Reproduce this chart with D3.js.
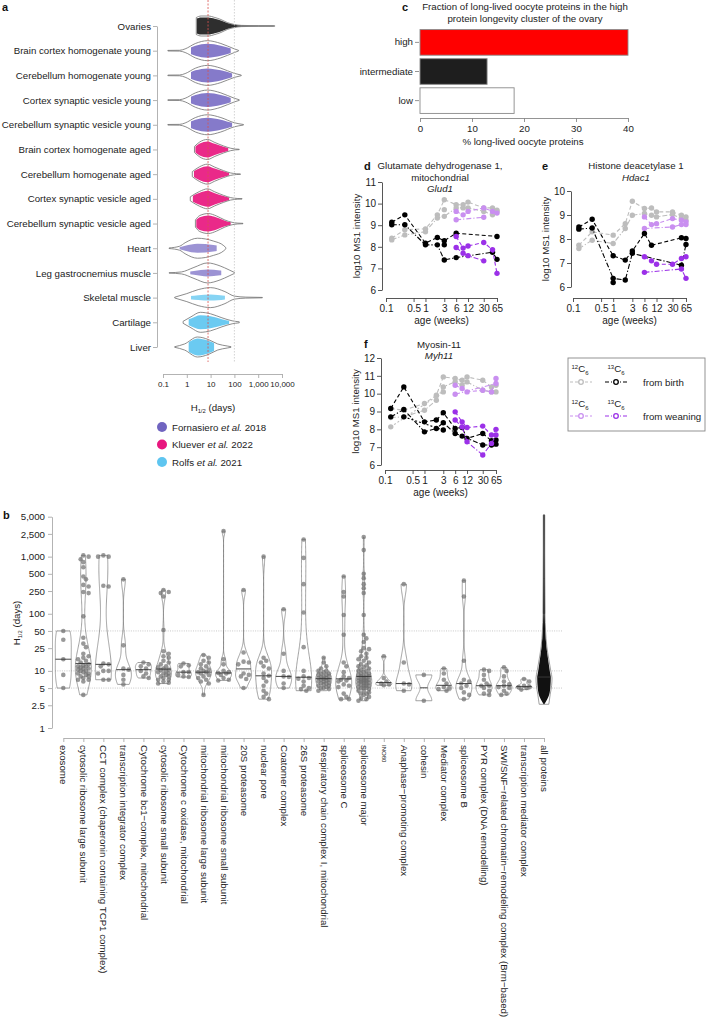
<!DOCTYPE html>
<html><head><meta charset="utf-8">
<script src="https://cdn.jsdelivr.net/npm/d3@7"></script>
<style>body{margin:0;background:#fff}svg{display:block}</style>
</head><body><script>
// ================= DATA =================
// Panel a
const tissues = ["Ovaries","Brain cortex homogenate young","Cerebellum homogenate young","Cortex synaptic vesicle young","Cerebellum synaptic vesicle young","Brain cortex homogenate aged","Cerebellum homogenate aged","Cortex synaptic vesicle aged","Cerebellum synaptic vesicle aged","Heart","Leg gastrocnemius muscle","Skeletal muscle","Cartilage","Liver"];
const tissueStudy = ["Ovary","Fornasiero","Fornasiero","Fornasiero","Fornasiero","Kluever","Kluever","Kluever","Kluever","Fornasiero","Fornasiero","Rolfs","Rolfs","Rolfs"];
// violin outline profiles: [half-life (days), relative width]
const tissueOutline = [
 [[2.5,0.85],[4,1],[8,1],[15,0.85],[27,0.65],[50,0.35],[100,0.15],[200,0.06],[1000,0.03],[5000,0.02]],
 [[0.16,0.03],[0.5,0.04],[0.85,0.18],[2.3,0.72],[7.4,1],[27,0.72],[100,0.18],[150,0.03]],
 [[0.16,0.03],[0.5,0.04],[0.85,0.18],[2.3,0.72],[7.4,1],[27,0.72],[100,0.2],[194,0.03]],
 [[0.16,0.03],[0.5,0.04],[0.85,0.18],[2.3,0.72],[7.4,1],[27,0.72],[100,0.18],[160,0.03]],
 [[0.16,0.03],[0.5,0.04],[0.85,0.18],[2.3,0.72],[7.4,1],[27,0.72],[100,0.2],[240,0.03]],
 [[2.1,0.3],[3.5,0.75],[7.4,1],[15,0.7],[35,0.35],[70,0.12],[110,0.04],[160,0.02]],
 [[1.7,0.25],[3.5,0.75],[7.4,1],[15,0.7],[35,0.35],[70,0.12],[120,0.04],[180,0.02]],
 [[1.4,0.2],[3.5,0.75],[7.4,1],[15,0.7],[35,0.35],[70,0.12],[130,0.04],[210,0.02]],
 [[2.3,0.35],[3.5,0.8],[8,1],[18,0.75],[40,0.35],[80,0.12],[140,0.04],[230,0.02]],
 [[0.18,0.03],[0.5,0.2],[0.85,0.55],[2.8,1],[13,0.72],[36,0.25],[44,0.05]],
 [[0.18,0.02],[0.6,0.1],[2,0.55],[7.4,1],[25,0.7],[60,0.3],[100,0.05]],
 [[0.31,0.04],[1,0.4],[3,0.8],[10,1],[40,0.6],[100,0.15],[300,0.05],[1500,0.02]],
 [[0.7,0.1],[1.5,0.55],[3.7,1],[10,0.85],[30,0.45],[80,0.15],[160,0.05]],
 [[0.31,0.03],[0.8,0.3],[2.8,1],[8,0.75],[20,0.3],[50,0.1],[72,0.03]]
];
// spread of the individual protein points inside each violin: relative width and half-life range
const tissuePointSpread = [0.85,0.7,0.7,0.7,0.7,0.8,0.8,0.8,0.8,0.45,0.35,0.3,0.7,0.85];
const tissuePointRange = [[2.6,4500],[1.5,70],[1.5,80],[1.5,70],[1.5,80],[2.3,55],[2.0,60],[1.8,60],[2.5,70],[0.5,18],[1.4,28],[1.5,40],[1.2,60],[1.2,14]];
const studies = ["Fornasiero et al. 2018","Kluever et al. 2022","Rolfs et al. 2021"];
const medianHalfLife = 7.8;
const referenceHalfLife = 100;
const aTicks = [0.1,1,10,100,1000,10000];

// Panel c
const longevityClusters = ["high","intermediate","low"];
const pctLongLived = [40,12.9,18.1];
const cTicks = [0,10,20,30,40];

// Panels d-f
const ageWeeks = [0.14,0.3,1,2,3,6,9,12,30,50,65];
const ageTicks = [0.1,0.5,1,3,6,12,30,65];
const N = null;
const glud1Birth12C = [
 [8.4,8.79,8.83,9.48,10.18,9.95,9.95,10.07,9.8,9.8,9.64],
 [8.32,8.55,8.7,9.33,9.41,9.8,9.8,9.8,9.64,9.48,9.7],
 [N,N,N,N,9.72,N,N,N,N,N,N]];
const glud1Birth13C = [
 [9.14,9.48,8.17,8.43,8.28,8.63,N,N,N,N,8.48],
 [9.02,9.02,8.09,8.09,7.39,7.5,N,N,N,7.75,7.42],
 [N,N,N,N,8.09,N,N,N,N,N,N]];
const glud1Wean12C = [
 [N,N,N,N,N,9.64,9.48,9.64,9.8,9.64,9.56],
 [N,N,N,N,N,9.25,N,N,9.37,N,N]];
const glud1Wean13C = [
 [N,N,N,N,N,8.48,7.94,8.04,8.2,7.86,6.77],
 [N,N,N,N,N,7.97,7.7,7.59,7.35,N,N]];

const hdac1Birth12C = [
 [7.74,8.3,8.16,8.64,9.57,9.27,9.29,9.13,9.13,8.99,8.92],
 [7.6,7.95,7.81,8.44,8.99,9.06,8.99,8.92,9.02,8.85,8.78]];
const hdac1Birth13C = [
 [8.5,8.82,7.3,7.12,7.5,8.23,7.74,N,N,8.05,8.02],
 [8.41,8.46,6.36,6.29,7.4,N,N,N,N,6.91,7.77],
 [N,N,6.19,N,N,N,N,N,N,N,N]];
const hdac1Wean12C = [
 [N,N,N,N,N,8.92,8.6,8.64,8.85,8.78,8.71],
 [N,N,N,N,N,8.44,N,N,8.5,8.6,8.6]];
const hdac1Wean13C = [
 [N,N,N,N,N,7.26,7.09,6.95,6.95,7.19,7.26],
 [N,N,N,N,N,6.61,N,N,N,6.75,6.36]];

const myh11Birth12C = [
 [9.17,9.07,9.45,9.91,10.94,10.85,10.75,10.94,10.75,10.38,10.47],
 [8.66,8.7,9.07,9.63,10.38,10.66,10.47,10.66,10.19,10.1,10.1],
 [8.14,N,N,N,10.1,N,N,N,N,N,N]];
const myh11Birth13C = [
 [9.17,10.38,8.42,8.52,8.93,8.05,8.1,7.49,7.77,7.36,7.4],
 [8.7,9.11,7.86,8.05,8.37,7.77,7.62,N,7.12,7.12,7.17],
 [N,8.7,N,N,7.96,N,N,N,N,N,N]];
const myh11Wean12C = [
 [N,N,N,N,N,10.47,10.29,10.1,10.19,10.1,10.85],
 [N,N,N,N,N,9.97,N,N,N,N,10.57]];
const myh11Wean13C = [
 [N,N,N,N,N,8.98,8.42,8.1,8.18,7.68,8.0],
 [N,N,N,N,N,8.52,8.14,7.3,6.56,7.21,7.68]];

// Panel b
const complexes = ["exosome","cytosolic ribosome large subunit","CCT complex (chaperonin containing TCP1 complex)","transcription integrator complex","Cytochrome bc1\u2212complex, mitochondrial","cytosolic ribosome small subunit","Cytochrome c oxidase, mitochondrial","mitochondrial ribosome large subunit","mitochondrial ribosome small subunit","20S proteasome","nuclear pore","Coatomer complex","26S proteasome","Respiratory chain complex I, mitochondrial","spliceosome C","spliceosome major","INO80","Anaphase\u2212promoting complex","cohesin","Mediator complex","spliceosome B","PYR complex (DNA remodelling)","SWI/SNF\u2212related chromatin\u2212remodeling complex (Brm\u2212based)","transcription mediator complex","all proteins"];
const complexHalfLives = [
 [50,35,16,8.5,5],
 [1050,1000,900,800,650,450,400,320,300,240,230,90,38,30,26,20,18,17,16,15,14,13,12.5,12,12,11.5,11,11,10.5,10,10,9.5,9,9,8.5,8,8,7.5,7,7,6.5,3.8],
 [1050,1000,1000,310,300,13.5,13,12,10,10,9,7,7],
 [400,28,11,10.5,8.5,7,5.8],
 [14,13,12,11,10,9,8,7.5],
 [260,240,230,200,52,22,20,18,17,15,14,13,12,11.5,11,10.5,10.3,10,9.5,9,9,8.5,8,8,7.5,7,7,6.5,6.2,6],
 [13.5,12.5,12,9.5,9.5,8.5,8,7.8],
 [19,17,15,14,13,12,11,10.5,10,9.5,9.5,9,8.5,8,7.5,7,6.5,6,3.8],
 [2800,16,13,10,9.5,9.2,9,8.5,7.5,7,6.8],
 [260,21,14.5,14,13,9,8.5,8,7.2,5],
 [1000,17,15,14,12,11,9,8.2,7.5,6.5,5.5,4.5,4,3.5,3.2],
 [120,20,10,8,7.8,6,5],
 [2000,950,330,105,26,10,8,7.5,7.3,6.5,5.5,5,4.8,4.5],
 [17,14,12,11,10,10,9.5,9,9,8.5,8.5,8,8,7.8,7.5,7.5,7.3,7,7,6.8,6.5,6.5,6.2,6,6,5.8,5.5,5.5,5.2,5,5,4.8,4.5],
 [450,240,200,95,43,14,12,9.5,8,7.5,7,6.8,6.5,5.8,5.5,5.2,4,3.5,3.2,3.2],
 [2200,1300,500,420,330,280,230,95,43,37,32,25,24,22,20,18,17,16,15,14,13,12.5,12,11.5,11,10.5,10,10,9.5,9,9,8.5,8.5,8,8,8,7.5,7.5,7.5,7,7,7,7,6.8,6.5,6.5,6.5,6.2,6,6,6,5.8,5.5,5.5,5.5,5.2,5,5,5,4.8,4.5,4.5,4.2,4,4,3.8,3.5,3.3,3.2,3],
 [18,7.5,6.5,6,5.8,5.6],
 [330,14,6,5.8,4.5],
 [8.5,3],
 [11,9,7,6,5.2,5,4.8,4.5],
 [380,200,15,7,6.5,6,5.5,5,4.2,3.8,3.2],
 [10.5,10,8.5,7,6,5.5,5.5,5,4.5,4,3.8],
 [11.5,10,8,6.5,5.8,5.5,5.2,5,4.5,4,3.8],
 [7.2,6.5,5.5,5.3,5.2,5,4.7],
 null
];
// all proteins (thousands of points): density profile [half-life, relative width]
const allProteinsProfile = [[2.6,0.6],[3.9,0.78],[5.5,0.95],[7.5,1],[10,0.85],[16,0.6],[27,0.35],[50,0.2],[100,0.12],[420,0.08],[5400,0.04]];
const allProteinsMedian = 7.8;
const bTicks = [1,2.5,5,10,25,50,100,250,500,1000,2500,5000];
const bGuides = [5,10,50];

// ================= DRAWING =================
const FONT = "'Liberation Sans', Arial, Helvetica, sans-serif";
const svg = d3.select("body").append("svg").attr("width",708).attr("height",1025)
  .style("font-family",FONT);
const studyColor = {Ovary:"#1c1c1c",Fornasiero:"#7b6fc6",Kluever:"#e8177f",Rolfs:"#5ec5f0"};
const legendColors = ["#7064c0","#e8177f","#5ec5f0"];

function panelLabel(t,x,y){svg.append("text").attr("x",x).attr("y",y).attr("font-size",11).attr("font-weight","bold").attr("fill","#111").text(t);}
function styleAxis(g,color,fs){
  g.selectAll("path,line").attr("stroke",color).attr("stroke-width",0.9);
  g.selectAll("text").attr("font-size",fs).attr("fill","#222").attr("font-family",FONT);
}
function hText(g,x,y,anchor,fs,rot){
  const t=g.append("text").attr("x",x).attr("y",y).attr("text-anchor",anchor).attr("font-size",fs).attr("fill","#222");
  if(rot) t.attr("transform",`rotate(${rot},${x},${y})`);
  t.append("tspan").text("H");
  t.append("tspan").attr("font-size",fs*0.6).attr("dy",2).text("1/2");
  t.append("tspan").attr("dy",-2).text(" (days)");
  return t;
}

// ---------- Panel a ----------
panelLabel("a",2,11);
const aX = d3.scaleLog().domain([0.1,10000]).range([163,282]);
const aY = d3.scalePoint().domain(tissues).range([26,347]);
const gA = svg.append("g");
const aHW = 10;
const defs = svg.append("defs");
tissues.forEach((t,i)=>{
  const cy = aY(t);
  const prof = tissueOutline[i];
  const ar = s => d3.area().x(d=>aX(d[0])).y0(d=>cy-d[1]*aHW*s).y1(d=>cy+d[1]*aHW*s).curve(d3.curveMonotoneX);
  const cid = "clipA"+i;
  const rg = tissuePointRange[i];
  defs.append("clipPath").attr("id",cid).append("rect")
    .attr("x",aX(rg[0])).attr("width",aX(rg[1])-aX(rg[0])).attr("y",cy-14).attr("height",28);
  const col = studyColor[tissueStudy[i]];
  gA.append("path").attr("d",ar(tissuePointSpread[i])(prof)).attr("fill",col)
    .attr("opacity",i>=9 && i<=11 ? 0.75 : 0.92).attr("clip-path",`url(#${cid})`);
  gA.append("path").attr("d",ar(1)(prof)).attr("fill","none").attr("stroke","#6f6f6f").attr("stroke-width",0.8);
});
gA.append("line").attr("x1",aX(referenceHalfLife)).attr("x2",aX(referenceHalfLife)).attr("y1",0).attr("y2",362)
  .attr("stroke","#c8c8c8").attr("stroke-width",0.8).attr("stroke-dasharray","1.5,1.5");
gA.append("line").attr("x1",aX(medianHalfLife)).attr("x2",aX(medianHalfLife)).attr("y1",0).attr("y2",362)
  .attr("stroke","#d9534f").attr("stroke-width",0.8).attr("stroke-dasharray","2,1.5");
const aYAxis = gA.append("g").attr("transform","translate(157,0)")
  .call(d3.axisLeft(aY).tickSize(4).tickSizeOuter(0).tickPadding(2));
styleAxis(aYAxis,"#aaa",9.7);
const aXAxis = gA.append("g").attr("transform","translate(0,374)")
  .call(d3.axisBottom(aX).tickValues(aTicks).tickFormat(d3.format(",")).tickSize(4).tickSizeOuter(0).tickPadding(3));
styleAxis(aXAxis,"#aaa",8);
hText(gA,213,411,"middle",9.7);
// legend a
studies.forEach((s,i)=>{
  const y = 427 + i*17.5;
  gA.append("circle").attr("cx",162).attr("cy",y).attr("r",5).attr("fill",legendColors[i]);
  const t = gA.append("text").attr("x",172).attr("y",y+3.5).attr("font-size",9.7).attr("fill","#222");
  const parts = s.split(" et al. ");
  t.append("tspan").text(parts[0]+" ");
  t.append("tspan").attr("font-style","italic").text("et al.");
  t.append("tspan").text(" "+parts[1]);
});

// ---------- Panel c ----------
panelLabel("c",402,11);
const gC = svg.append("g");
gC.append("text").attr("x",525).attr("y",10).attr("text-anchor","middle").attr("font-size",9.7).attr("fill","#222")
  .text("Fraction of long-lived oocyte proteins in the high");
gC.append("text").attr("x",525).attr("y",22).attr("text-anchor","middle").attr("font-size",9.7).attr("fill","#222")
  .text("protein longevity cluster of the ovary");
const cX = d3.scaleLinear().domain([0,40]).range([420,628]);
const cY = d3.scaleBand().domain(longevityClusters).range([29,114]).paddingInner(0.12).paddingOuter(0.02);
const barFill = {high:"#ff0000",intermediate:"#1e1e1e",low:"#ffffff"};
gC.selectAll("rect.bar").data(longevityClusters).join("rect").attr("class","bar")
  .attr("x",cX(0)).attr("y",d=>cY(d)).attr("height",cY.bandwidth())
  .attr("width",(d,i)=>cX(pctLongLived[i])-cX(0))
  .attr("fill",d=>barFill[d]).attr("stroke","#8a8a8a").attr("stroke-width",0.9);
const cYAxis = gC.append("g").attr("transform","translate(419,0)").call(d3.axisLeft(cY).tickSize(4).tickPadding(2));
cYAxis.select(".domain").remove();
styleAxis(cYAxis,"#888",9.7);
const cXAxis = gC.append("g").attr("transform","translate(0,118)")
  .call(d3.axisBottom(cX).tickValues(cTicks).tickSize(4).tickSizeOuter(0).tickPadding(3));
styleAxis(cXAxis,"#888",9.7);
gC.append("text").attr("x",523).attr("y",145).attr("text-anchor","middle").attr("font-size",9.7).attr("fill","#222")
  .text("% long-lived oocyte proteins");

// ---------- Panels d, e, f ----------
const cols = {b12:"#bdbdbd",b13:"#000000",w12:"#c98ff0",w13:"#9b30e8"};
const dashes = ["4,2.5","5,2,1.2,2","2,2"];
function linePanel(o){
  const g = svg.append("g");
  const x = d3.scaleLog().domain([0.1,65]).range(o.xr);
  const y = d3.scaleLinear().domain(o.yd).range(o.yr);
  const series = [[o.b12,cols.b12],[o.w12,cols.w12],[o.b13,cols.b13],[o.w13,cols.w13]];
  const line = d3.line().x(d=>x(d[0])).y(d=>y(d[1]));
  series.forEach(([reps,col])=>{
    reps.forEach((r,ri)=>{
      const pts = ageWeeks.map((a,i)=>[a,r[i]]).filter(d=>d[1]!=null);
      if(pts.length>1) g.append("path").attr("d",line(pts)).attr("fill","none").attr("stroke",col)
        .attr("stroke-width",1.1).attr("stroke-dasharray",dashes[ri]);
      g.selectAll(null).data(pts).join("circle").attr("cx",d=>x(d[0])).attr("cy",d=>y(d[1])).attr("r",2.7).attr("fill",col);
    });
  });
  const ya = g.append("g").attr("transform",`translate(${o.yAxisX},0)`)
    .call(d3.axisLeft(y).tickValues(d3.range(o.yd[0],o.yd[1]+1)).tickFormat(d3.format("d")).tickSize(4).tickSizeOuter(0).tickPadding(2));
  styleAxis(ya,"#444",10);
  const xa = g.append("g").attr("transform",`translate(0,${o.xAxisY})`)
    .call(d3.axisBottom(x).tickValues(ageTicks).tickFormat(d=>d).tickSize(4).tickSizeOuter(0).tickPadding(3));
  styleAxis(xa,"#444",10);
  g.append("text").attr("x",(o.xr[0]+o.xr[1])/2).attr("y",o.xAxisY+26).attr("text-anchor","middle")
    .attr("font-size",10).attr("fill","#222").text("age (weeks)");
  const ly = (o.yr[0]+o.yr[1])/2;
  g.append("text").attr("transform",`translate(${o.yAxisX-22},${ly}) rotate(-90)`).attr("text-anchor","middle")
    .attr("font-size",9.7).attr("fill","#222").text("log10 MS1 intensity");
  o.title.forEach((t,i)=>{
    g.append("text").attr("x",o.tx).attr("y",o.ty+i*11.7).attr("text-anchor","middle").attr("font-size",9.7)
      .attr("fill","#222").attr("font-style",i===o.title.length-1?"italic":"normal").text(t);
  });
}
panelLabel("d",364,170);
linePanel({xr:[386,497],yd:[6,11],yr:[290,182],yAxisX:382,xAxisY:298,title:["Glutamate dehydrogenase 1,","mitochondrial","Glud1"],tx:440,ty:169,
  b12:glud1Birth12C,b13:glud1Birth13C,w12:glud1Wean12C,w13:glud1Wean13C});
panelLabel("e",542,170);
linePanel({xr:[573,686],yd:[6,10],yr:[287,191],yAxisX:571,xAxisY:298,title:["Histone deacetylase 1","Hdac1"],tx:636,ty:169,
  b12:hdac1Birth12C,b13:hdac1Birth13C,w12:hdac1Wean12C,w13:hdac1Wean13C});
panelLabel("f",364,348);
linePanel({xr:[385,496],yd:[6,12],yr:[465,358],yAxisX:381,xAxisY:470,title:["Myosin-11","Myh11"],tx:439,ty:347.5,
  b12:myh11Birth12C,b13:myh11Birth13C,w12:myh11Wean12C,w13:myh11Wean13C});

// legend for d-f
const gL = svg.append("g");
gL.append("rect").attr("x",568).attr("y",358).attr("width",137).attr("height",73).attr("fill","none").attr("stroke","#888").attr("stroke-width",0.9);
function isoLabel(x,y,mass){
  const t = gL.append("text").attr("x",x).attr("y",y).attr("text-anchor","middle").attr("font-size",9.7).attr("fill","#222");
  t.append("tspan").attr("font-size",6).attr("dy",-3).text(mass);
  t.append("tspan").attr("dy",3).text("C");
  t.append("tspan").attr("font-size",6).attr("dy",2.5).text("6");
}
function legSample(cx,y,col,dash){
  gL.append("line").attr("x1",cx-11).attr("x2",cx+11).attr("y1",y).attr("y2",y).attr("stroke",col).attr("stroke-width",1.2).attr("stroke-dasharray",dash);
  gL.append("circle").attr("cx",cx).attr("cy",y).attr("r",2.3).attr("fill","#fff").attr("stroke",col).attr("stroke-width",1.3);
}
isoLabel(580,372,"12"); isoLabel(616,372,"13");
legSample(581,382,cols.b12,"3,2"); legSample(616,382,cols.b13,"4,2,1,2");
gL.append("text").attr("x",643).attr("y",385.5).attr("font-size",9.7).attr("fill","#222").text("from birth");
isoLabel(580,407,"12"); isoLabel(616,407,"13");
legSample(581,416,cols.w12,"3,2"); legSample(616,416,cols.w13,"4,2,1,2");
gL.append("text").attr("x",643).attr("y",419.5).attr("font-size",9.7).attr("fill","#222").text("from weaning");

// ---------- Panel b ----------
panelLabel("b",3,519);
const gB = svg.append("g");
const bX = d3.scalePoint().domain(complexes).range([63.3,544]);
const bY = d3.scaleLog().domain([1,5000]).range([728,516.7]);
const bHW = 8;
bGuides.forEach(v=>{
  gB.append("line").attr("x1",55).attr("x2",563).attr("y1",bY(v)).attr("y2",bY(v))
    .attr("stroke","#b0b0b0").attr("stroke-width",0.7).attr("stroke-dasharray","1,1.3");
});
function kde(vals){
  const lv = vals.map(Math.log10).sort(d3.ascending);
  const sd = d3.deviation(lv) || 0.1;
  const iqr = d3.quantile(lv,0.75)-d3.quantile(lv,0.25);
  let s = Math.min(sd, iqr/1.34); if(!(s>0)) s = sd;
  const bw = 0.9*s*Math.pow(lv.length,-0.2);
  const a = lv[0], b = lv[lv.length-1], n = 120;
  const dens = d3.range(n+1).map(i=>{const g=a+(b-a)*i/n; return [g,d3.sum(lv,v=>Math.exp(-0.5*((g-v)/bw)**2))];});
  const m = d3.max(dens,d=>d[1]);
  return {dens:dens.map(d=>[d[0],d[1]/m]), med:d3.median(lv)};
}
function dodge(ys,r){
  const order = d3.range(ys.length).sort((i,j)=>ys[i]-ys[j]);
  const placed=[], xs=new Array(ys.length);
  const cands=[0,1,-1,2,-2].map(k=>k*r*1.15);
  for(const i of order){
    let best=0,bestD=-1;
    for(const c of cands){
      let md=Infinity;
      for(const p of placed){const d=Math.hypot(p[0]-c,p[1]-ys[i]); if(d<md) md=d;}
      if(md>=r*1.7){best=c;bestD=Infinity;break;}
      if(md>bestD){bestD=md;best=c;}
    }
    xs[i]=best; placed.push([best,ys[i]]);
  }
  return xs;
}
complexes.forEach((c,i)=>{
  const cx = bX(c);
  const vals = complexHalfLives[i];
  if(vals){
    const k = kde(vals);
    const area = d3.area().y(d=>bY(10**d[0])).x0(d=>cx-d[1]*bHW).x1(d=>cx+d[1]*bHW).curve(d3.curveLinear);
    gB.append("path").attr("d",area(k.dens)).attr("fill","none").attr("stroke","#7a7a7a").attr("stroke-width",0.7);
    const ys = vals.map(v=>bY(v));
    const xs = dodge(ys,2.3);
    gB.selectAll(null).data(vals).join("circle").attr("cx",(d,j)=>cx+xs[j]).attr("cy",d=>bY(d)).attr("r",2.3)
      .attr("fill","#6e6e6e").attr("fill-opacity",0.7);
    const md = k.dens.reduce((p,q)=>Math.abs(q[0]-k.med)<Math.abs(p[0]-k.med)?q:p);
    gB.append("line").attr("x1",cx-md[1]*bHW).attr("x2",cx+md[1]*bHW).attr("y1",bY(10**k.med)).attr("y2",bY(10**k.med))
      .attr("stroke","#333").attr("stroke-width",0.9);
  } else {
    const prof = allProteinsProfile;
    const area = s => d3.area().y(d=>bY(d[0])).x0(d=>cx-d[1]*bHW*s).x1(d=>cx+d[1]*bHW*s).curve(d3.curveMonotoneY);
    const inner = prof.map((d,j)=>[d[0], j===0?0.05:d[1]]);
    gB.append("path").attr("d",area(0.85)(inner)).attr("fill","#111");
    gB.append("line").attr("x1",cx).attr("x2",cx).attr("y1",bY(prof[prof.length-1][0])).attr("y2",bY(100))
      .attr("stroke","#111").attr("stroke-width",2.2);
    gB.append("path").attr("d",area(1)(prof)).attr("fill","none").attr("stroke","#7a7a7a").attr("stroke-width",0.7);
    gB.append("line").attr("x1",cx-7).attr("x2",cx+7).attr("y1",bY(allProteinsMedian)).attr("y2",bY(allProteinsMedian))
      .attr("stroke","#444").attr("stroke-width",0.8);
  }
});
const bYAxis = gB.append("g").attr("transform","translate(52,0)")
  .call(d3.axisLeft(bY).tickValues(bTicks).tickFormat(d3.format(",")).tickSize(4).tickSizeOuter(0).tickPadding(3));
styleAxis(bYAxis,"#aaa",9.7);
hText(gB,20,623,"middle",9.7,-90);
const bXAxis = gB.append("g").attr("transform","translate(0,738)")
  .call(d3.axisBottom(bX).tickSize(4).tickSizeOuter(0));
styleAxis(bXAxis,"#aaa",9.7);
bXAxis.selectAll(".tick text").attr("transform","rotate(90)").attr("text-anchor","start")
  .attr("x",7).attr("y",0).attr("dy","0.35em")
  .attr("font-size",d=>d==="INO80"?6:9.7);
</script></body></html>
